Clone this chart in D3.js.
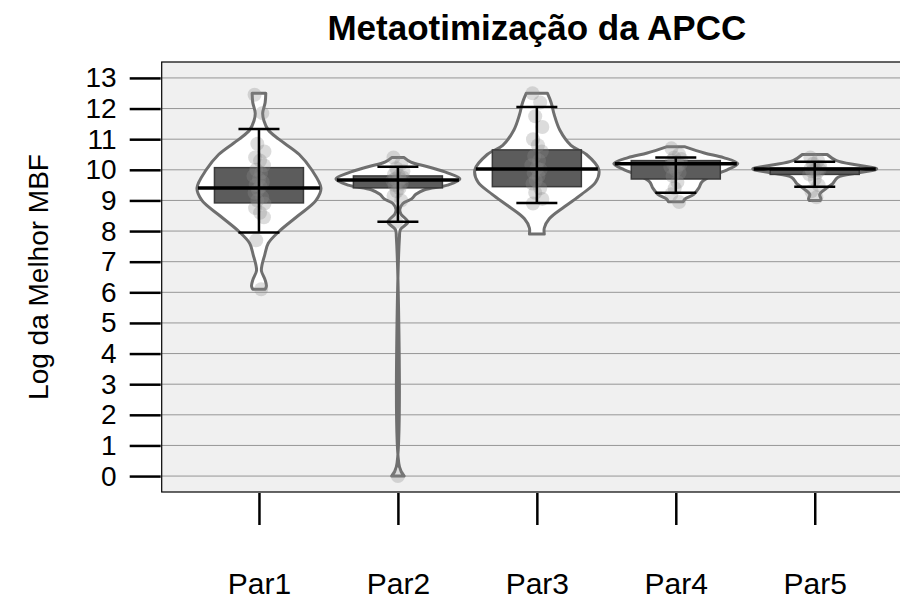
<!DOCTYPE html>
<html>
<head>
<meta charset="utf-8">
<script src="https://cdn.jsdelivr.net/npm/d3@7"></script>
<style>
  html, body { margin: 0; padding: 0; background: #ffffff; }
  svg { display: block; font-family: "Liberation Sans", Arial, Helvetica, sans-serif; }
</style>
</head>
<body>
<svg id="chart" width="900" height="609"></svg>
<script>
// ---------- DATA ----------
const categories = ["Par1", "Par2", "Par3", "Par4", "Par5"];
const yTicks = [0, 1, 2, 3, 4, 5, 6, 7, 8, 9, 10, 11, 12, 13];

const medians = [9.41, 9.67, 10.03, 10.2, 10.03];
const q1 = [8.92, 9.41, 9.45, 9.7, 9.85];
const q3 = [10.07, 9.8, 10.65, 10.3, 10.05];
const whiskerLow = [7.95, 8.3, 8.92, 9.25, 9.45];
const whiskerHigh = [11.33, 10.1, 12.05, 10.4, 10.26];

const pointsPar1 = [12.45, 11.85, 10.85, 10.6, 10.4, 10.3, 10.15, 10.0, 9.9, 9.8, 9.7, 9.6, 9.5, 9.45, 9.35, 9.25, 9.1, 9.0, 8.9, 8.75, 8.6, 8.45, 7.7, 6.1];
const pointsPar2 = [10.4, 10.2, 10.05, 9.95, 9.85, 9.8, 9.75, 9.7, 9.7, 9.65, 9.6, 9.55, 9.5, 9.4, 9.3, 9.15, 9.0, 8.3, 0.0];
const pointsPar3 = [12.5, 12.2, 11.75, 11.4, 11.0, 10.8, 10.6, 10.45, 10.3, 10.15, 10.05, 10.0, 9.9, 9.8, 9.65, 9.55, 9.4, 9.25, 9.05, 8.9];
const pointsPar4 = [10.7, 10.5, 10.4, 10.35, 10.3, 10.25, 10.2, 10.2, 10.15, 10.1, 10.0, 9.9, 9.8, 9.6, 9.4, 9.2, 8.95];
const pointsPar5 = [10.4, 10.3, 10.2, 10.1, 10.05, 10.0, 10.0, 9.95, 9.9, 9.85, 9.7, 9.5, 9.3, 9.1];

// violin profiles: [value, relative density]
const densityPar1 = [[12.5,0.11],[12.2,0.1],[11.85,0.06],[11.6,0.08],[11.3,0.15],[11.0,0.32],[10.5,0.65],[10.0,0.85],[9.4,1.0],[9.0,0.92],[8.5,0.63],[8.0,0.33],[7.6,0.15],[7.2,0.09],[6.9,0.05],[6.7,0.04],[6.4,0.1],[6.2,0.12],[6.1,0.1]];
const densityPar2 = [[10.4,0.1],[10.25,0.21],[10.1,0.48],[9.9,0.8],[9.7,1.0],[9.5,0.8],[9.35,0.43],[9.2,0.29],[9.05,0.22],[8.9,0.08],[8.7,0.03],[8.55,0.05],[8.3,0.16],[8.05,0.04],[7.8,0.025],[0.3,0.025],[0.0,0.1]];
const densityPar3 = [[12.5,0.17],[12.2,0.23],[11.8,0.28],[11.3,0.37],[10.8,0.55],[10.5,0.8],[10.0,1.0],[9.6,0.95],[9.2,0.72],[8.8,0.45],[8.4,0.2],[8.1,0.12],[7.9,0.12]];
const densityPar4 = [[10.75,0.15],[10.55,0.46],[10.4,0.77],[10.2,1.0],[10.0,0.83],[9.8,0.57],[9.6,0.42],[9.4,0.37],[9.2,0.29],[9.05,0.15],[8.96,0.12]];
const densityPar5 = [[10.5,0.2],[10.3,0.35],[10.15,0.71],[10.03,1.0],[9.9,0.71],[9.75,0.37],[9.55,0.29],[9.4,0.19],[9.2,0.08],[9.05,0.1],[9.0,0.09]];

// deterministic horizontal jitter (relative, -1..1)
const jitterPattern = [-0.8, 0.6, -0.3, 1.0, -0.7, 0.2, 0.9, -0.5, 0.4, -1.0, 0.0, 0.7, -0.6, 0.3, -0.2];

const allPoints = [pointsPar1, pointsPar2, pointsPar3, pointsPar4, pointsPar5];
const allDensity = [densityPar1, densityPar2, densityPar3, densityPar4, densityPar5];

// ---------- LAYOUT ----------
const svg = d3.select("#chart");
const panel = { left: 161.7, right: 912, top: 62, bottom: 492 };

const x = d3.scaleLinear().domain([0.3, 5.7]).range([panel.left, panel.right]);
const y = d3.scaleLinear().domain([-0.52, 13.52]).range([panel.bottom, panel.top]);
const wScale = d3.scaleLinear().domain([0, 1]).range([0, 62]);
const jScale = d3.scaleLinear().domain([-1, 1]).range([-5.5, 5.5]);

// panel background
svg.append("rect")
  .attr("x", panel.left).attr("y", panel.top)
  .attr("width", panel.right - panel.left).attr("height", panel.bottom - panel.top)
  .attr("fill", "#f0f0f0");

// gridlines
svg.append("g").selectAll("line").data(yTicks).join("line")
  .attr("x1", panel.left).attr("x2", panel.right)
  .attr("y1", d => y(d)).attr("y2", d => y(d))
  .attr("stroke", "#969696").attr("stroke-width", 1);

const groups = svg.append("g").selectAll("g").data(categories).join("g");

// violins
const area = d3.area().curve(d3.curveCatmullRom.alpha(0.5));
groups.append("path")
  .attr("d", (d, i) => {
    const cx = x(i + 1);
    return area
      .y(p => y(p[0]))
      .x0(p => cx - wScale(p[1]))
      .x1(p => cx + wScale(p[1]))(allDensity[i]);
  })
  .attr("fill", "#ffffff")
  .attr("stroke", "#6f6f6f")
  .attr("stroke-width", 3)
  .attr("stroke-linejoin", "round");

// boxes
groups.append("rect")
  .attr("x", (d, i) => x(i + 1) - 44.5)
  .attr("width", 89)
  .attr("y", (d, i) => y(q3[i]))
  .attr("height", (d, i) => y(q1[i]) - y(q3[i]))
  .attr("fill", "#5c5c5c")
  .attr("stroke", "#3a3a3a")
  .attr("stroke-width", 1.5);

// points
groups.each(function(d, i) {
  const pts = allPoints[i];
  d3.select(this).append("g").selectAll("circle").data(pts).join("circle")
    .attr("cx", (v, k) => x(i + 1) + (v === 0 ? 0 : jScale(jitterPattern[k % jitterPattern.length])))
    .attr("cy", v => y(v))
    .attr("r", 7)
    .attr("fill", "#8c8c8c")
    .attr("fill-opacity", 0.3);
});

// whiskers
groups.append("line")
  .attr("x1", (d, i) => x(i + 1)).attr("x2", (d, i) => x(i + 1))
  .attr("y1", (d, i) => y(whiskerLow[i])).attr("y2", (d, i) => y(whiskerHigh[i]))
  .attr("stroke", "#000").attr("stroke-width", 2.5);
groups.append("line")
  .attr("x1", (d, i) => x(i + 1) - 20.5).attr("x2", (d, i) => x(i + 1) + 20.5)
  .attr("y1", (d, i) => y(whiskerLow[i])).attr("y2", (d, i) => y(whiskerLow[i]))
  .attr("stroke", "#000").attr("stroke-width", 2.5);
groups.append("line")
  .attr("x1", (d, i) => x(i + 1) - 20.5).attr("x2", (d, i) => x(i + 1) + 20.5)
  .attr("y1", (d, i) => y(whiskerHigh[i])).attr("y2", (d, i) => y(whiskerHigh[i]))
  .attr("stroke", "#000").attr("stroke-width", 2.5);

// medians
groups.append("line")
  .attr("x1", (d, i) => x(i + 1) - 61).attr("x2", (d, i) => x(i + 1) + 61)
  .attr("y1", (d, i) => y(medians[i])).attr("y2", (d, i) => y(medians[i]))
  .attr("stroke", "#000").attr("stroke-width", 3.5);

// panel border
svg.append("rect")
  .attr("x", panel.left).attr("y", panel.top)
  .attr("width", panel.right - panel.left).attr("height", panel.bottom - panel.top)
  .attr("fill", "none").attr("stroke", "#000").attr("stroke-width", 1.2);

// y axis
const yAxis = d3.axisLeft(y).tickValues(yTicks).tickSize(31).tickPadding(13).tickFormat(d3.format("d"));
const yg = svg.append("g").attr("transform", `translate(${panel.left - 1},0)`).call(yAxis);
yg.select(".domain").remove();
yg.selectAll(".tick line").attr("stroke", "#000").attr("stroke-width", 2.5);
yg.selectAll(".tick text").attr("font-size", 28).attr("fill", "#000")
  .attr("font-family", "'Liberation Sans', Arial, sans-serif");

// x axis
const xAxis = d3.axisBottom(x).tickValues(categories.map((c, i) => i + 1))
  .tickSize(32).tickPadding(48).tickFormat((d) => categories[d - 1]);
const xg = svg.append("g").attr("transform", `translate(0,${panel.bottom + 1})`).call(xAxis);
xg.select(".domain").remove();
xg.selectAll(".tick line").attr("stroke", "#000").attr("stroke-width", 2.5);
xg.selectAll(".tick text").attr("font-size", 30).attr("fill", "#000")
  .attr("font-family", "'Liberation Sans', Arial, sans-serif");

// title
svg.append("text")
  .attr("x", (panel.left + panel.right) / 2).attr("y", 40)
  .attr("text-anchor", "middle")
  .attr("font-size", 35).attr("font-weight", "bold")
  .text("Metaotimização da APCC");

// y label
svg.append("text")
  .attr("transform", `translate(48,${(panel.top + panel.bottom) / 2}) rotate(-90)`)
  .attr("text-anchor", "middle")
  .attr("font-size", 28)
  .text("Log da Melhor MBF");
</script>
</body>
</html>
